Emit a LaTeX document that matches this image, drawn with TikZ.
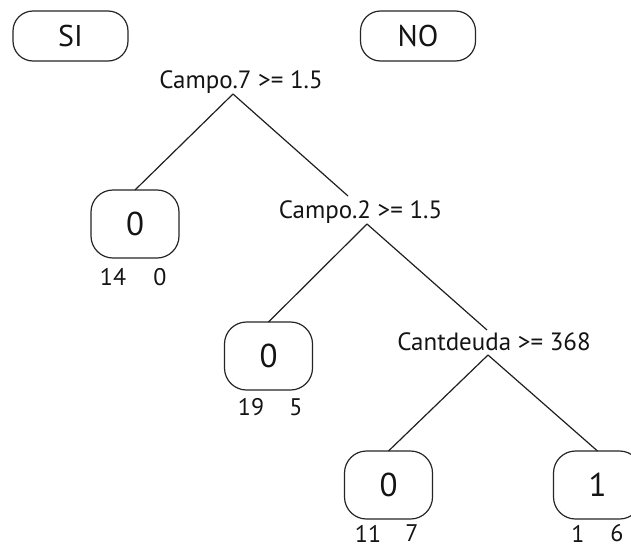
\documentclass[tikz,border=0pt]{standalone}
\usepackage{fontspec}
\setmainfont{PT Sans}
\begin{document}
\begin{tikzpicture}[x=1pt,y=-1pt,
  line width=1.2pt,
  every node/.style={text=black!92, inner sep=0pt, outer sep=0pt},
  legendbox/.style={draw=black!85, rounded corners=20pt, minimum width=115pt, minimum height=50pt, font=\fontsize{30}{31}\selectfont},
  leafbox/.style={draw=black!85, rounded corners=22pt, minimum width=88pt, minimum height=68pt, font=\fontsize{33}{34}\selectfont},
  condtext/.style={anchor=base, font=\fontsize{25}{27}\selectfont},
  counttext/.style={font=\fontsize{24}{26}\selectfont},
  edge/.style={draw=black!88, line width=1.2pt}
]
\useasboundingbox (0,0) rectangle (631,549);
\clip (0,0) rectangle (631,549);
\fill[white] (0,0) rectangle (631,549);

% legend boxes
\node[legendbox] (si) at (70.5,36) {SI};
\node[legendbox] (no) at (418,36) {NO};

% condition labels
\node[condtext] (c7) at (241,88) {Campo.7 >= 1.5};
\node[condtext] (c2) at (360.5,218) {Campo.2 >= 1.5};
\node[condtext] (cd) at (494,350) {Cantdeuda >= 368};

\coordinate (c7apex) at (233,94);
\coordinate (c2top) at (348,196);
\coordinate (c2apex) at (367,224);
\coordinate (cdtop) at (487,330);
\coordinate (cdapex) at (488,355);

% leaves
\node[leafbox] (l1) at (135,224) {0};
\node[leafbox] (l2) at (268.5,356) {0};
\node[leafbox] (l3) at (388.5,485) {0};
\node[leafbox] (l4) at (597.5,485) {1};

% counts
\node[counttext] (l1a) at (113,277) {14};
\node[counttext] (l1b) at (160,277) {0};
\node[counttext] (l2a) at (251,407) {19};
\node[counttext] (l2b) at (296,407) {5};
\node[counttext] (l3a) at (368,533.5) {11};
\node[counttext] (l3b) at (412,533.5) {7};
\node[counttext] (l4a) at (578,533.5) {1};
\node[counttext] (l4b) at (617,533.5) {6};

% connectors
\draw[edge] (c7apex) -- (l1.north);
\draw[edge] (c7apex) -- (c2top);
\draw[edge] (c2apex) -- (l2.north);
\draw[edge] (c2apex) -- (cdtop);
\draw[edge] (cdapex) -- (l3.north);
\draw[edge] (cdapex) -- (l4.north);
\end{tikzpicture}
\end{document}
